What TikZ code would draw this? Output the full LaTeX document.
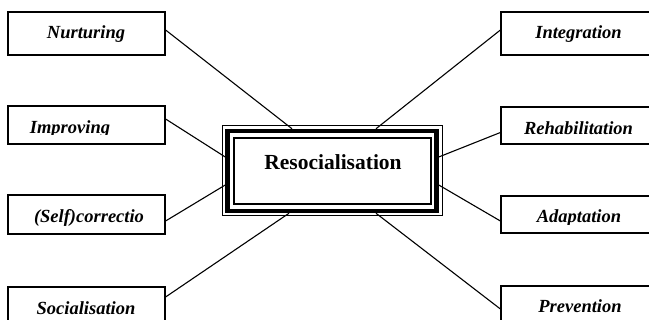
\documentclass[tikz,border=0pt]{standalone}
\usepackage{fontspec}
\setmainfont{Liberation Serif}
\usetikzlibrary{calc}
\begin{document}
\begin{tikzpicture}[x=1pt,y=-1pt,
  box/.style={draw, line width=1.2pt, minimum width=157pt, inner sep=0pt},
  lbl/.style={font=\fontsize{18.5}{20}\selectfont\bfseries\itshape, inner sep=0pt, anchor=base},
  conn/.style={line width=1.1pt}]
\useasboundingbox (0,0) rectangle (649,320);
\clip (0,0) rectangle (649,320);
% left boxes
\node[box, minimum height=43pt] (nurt) at (86.5,33.5) {};
\node[box, minimum height=38pt] (impr) at (86.5,125) {};
\node[box, minimum height=39pt] (selfc) at (86.5,214.5) {};
\node[box, minimum height=43pt] (soc) at (86.5,308.5) {};
% right boxes
\node[box, minimum height=43pt] (integ) at (579.5,33.5) {};
\node[box, minimum height=37pt] (rehab) at (579.5,125.5) {};
\node[box, minimum height=37pt] (adapt) at (579.5,214.5) {};
\node[box, minimum height=43pt] (prev) at (579.5,307.5) {};
% central box
\node[draw, line width=4.5pt, minimum width=209pt, minimum height=80pt, inner sep=0pt] (res) at (332,171) {};
\draw[line width=1pt] ($(res.center)+(-110,-45)$) rectangle ($(res.center)+(110,45)$);
\draw[line width=2pt] ($(res.center)+(-98,-33)$) rectangle ($(res.center)+(98.5,33.5)$);
\node[font=\fontsize{21.5}{24}\selectfont\bfseries, inner sep=0pt, anchor=base] (trest) at (333,170) {Resocialisation};
% connectors
\draw[conn] ($(nurt.east)+(0,-3.5)$) -- ($(res.north)+(-40,0)$);
\draw[conn] ($(impr.east)+(0,-6)$) -- ($(res.west)+(0,-14)$);
\draw[conn] ($(selfc.east)+(0,6.5)$) -- ($(res.west)+(0,14)$);
\draw[conn] ($(soc.east)+(0,-11.5)$) -- ($(res.south)+(-43,0)$);
\draw[conn] ($(integ.west)+(0,-3.5)$) -- ($(res.north)+(44,0)$);
\draw[conn] ($(rehab.west)+(0,7)$) -- ($(res.east)+(0,-14)$);
\draw[conn] ($(adapt.west)+(0,6.5)$) -- ($(res.east)+(0,14)$);
\draw[conn] ($(prev.west)+(0,1.5)$) -- ($(res.south)+(44,0)$);
% labels
\node[lbl] (tnurt) at (86,38.5) {Nurturing};
\begin{scope}
\clip (8,100) rectangle (165,134.5);
\node[lbl] (timpr) at (70,133.5) {Improving};
\end{scope}
\node[lbl] (tself) at (89,223) {(Self)correctio};
\node[lbl] (tsoc) at (86,315) {Socialisation};
\node[lbl] (tinteg) at (578.5,39) {Integration};
\node[lbl] (trehab) at (578.5,134.5) {Rehabilitation};
\begin{scope}
\clip (501,190) rectangle (649,224.2);
\node[lbl] (tadapt) at (579,223) {Adaptation};
\end{scope}
\node[lbl] (tprev) at (580,313) {Prevention};
\end{tikzpicture}
\end{document}
